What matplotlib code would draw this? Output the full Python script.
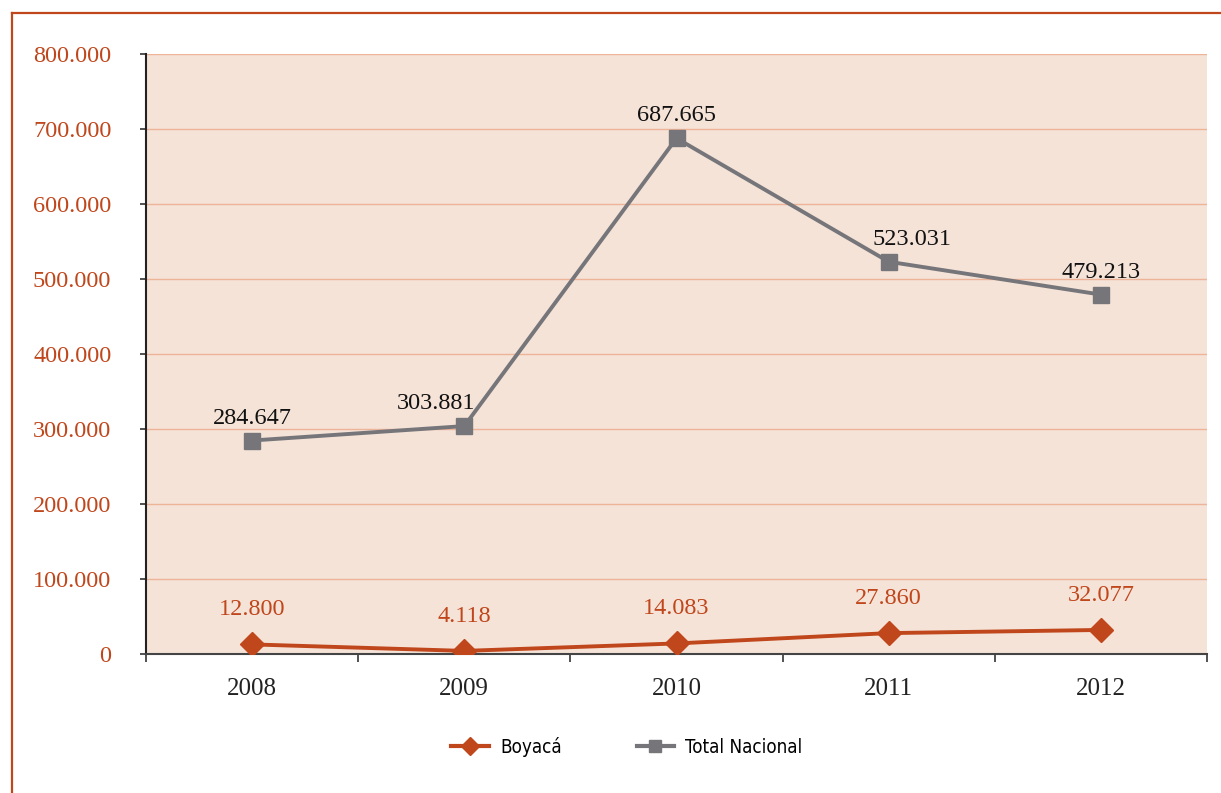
import matplotlib.pyplot as plt
from matplotlib.lines import Line2D

years = ['2008', '2009', '2010', '2011', '2012']
boyaca = [12800, 4118, 14083, 27860, 32077]
nacional = [284647, 303881, 687665, 523031, 479213]
boyaca_labels = ['12.800', '4.118', '14.083', '27.860', '32.077']
nacional_labels = ['284.647', '303.881', '687.665', '523.031', '479.213']
yticks = [0, 100000, 200000, 300000, 400000, 500000, 600000, 700000, 800000]
ytick_labels = ['0', '100.000', '200.000', '300.000', '400.000', '500.000', '600.000', '700.000', '800.000']

orange = '#C0461B'
gray = '#76767A'
fill = '#F5E3D8'
grid = '#EDB497'

fig = plt.figure(figsize=(12.21, 7.93), dpi=100)
ax = fig.add_axes([146 / 1221, 139 / 793, (1207 - 146) / 1221, 600 / 793])
ax.set_facecolor(fill)

x = list(range(len(years)))
ax.plot(x, nacional, color=gray, lw=2.8, marker='s', ms=12, label='Total Nacional', zorder=3)
ax.plot(x, boyaca, color=orange, lw=2.8, marker='D', ms=12, label='Boyacá', zorder=3)

ax.set_xlim(-0.5, 4.5)
ax.set_ylim(0, 800000)
ax.set_yticks(yticks)
ax.set_yticklabels(ytick_labels, fontfamily='Liberation Serif', fontsize=17.5, color=orange)
ax.set_xticks(x)
ax.set_xticklabels(years, fontfamily='Liberation Serif', fontsize=18, color='#222222')
ax.set_xticks([-0.5, 0.5, 1.5, 2.5, 3.5, 4.5], minor=True)
ax.tick_params(axis='x', which='major', length=0, pad=17)
ax.tick_params(axis='x', which='minor', length=6, width=1.2, color='#333333')
ax.tick_params(axis='y', length=4, width=1.2, color='#333333', pad=21)

for y in yticks[1:]:
    ax.axhline(y, color=grid, lw=1, zorder=1)

for s in ['top', 'right']:
    ax.spines[s].set_visible(False)
ax.spines['left'].set_color('#222222')
ax.spines['bottom'].set_color('#444444')
ax.spines['left'].set_linewidth(1.5)
ax.spines['bottom'].set_linewidth(1.5)

nac_offsets = [(0, 12), (-28, 12), (0, 12), (23, 12), (0, 12)]
for i, (v, lab) in enumerate(zip(nacional, nacional_labels)):
    ax.annotate(lab, (i, v), xytext=nac_offsets[i], textcoords='offset pixels',
                ha='center', va='bottom', fontfamily='Liberation Serif', fontsize=17.5, color='#111111')
for i, (v, lab) in enumerate(zip(boyaca, boyaca_labels)):
    ax.annotate(lab, (i, v), xytext=(0, 24), textcoords='offset pixels',
                ha='center', va='bottom', fontfamily='Liberation Serif', fontsize=17.5, color=orange)

handles = [Line2D([], [], color=orange, lw=3, marker='D', ms=9),
           Line2D([], [], color=gray, lw=3, marker='s', ms=9)]
fig.legend(handles, ['Boyacá', 'Total Nacional'], loc='center', bbox_to_anchor=(627 / 1221, 1 - 747 / 793),
           ncol=2, frameon=False,
           prop={'family': 'DejaVu Sans', 'stretch': 'condensed', 'size': 13.5},
           handlelength=2.0, columnspacing=4.0, handletextpad=0.6)

fig.add_artist(Line2D([12 / 1221, 12 / 1221], [0, 1 - 13 / 793], color=orange, lw=1.6, transform=fig.transFigure))
fig.add_artist(Line2D([12 / 1221, 1], [1 - 13 / 793, 1 - 13 / 793], color=orange, lw=1.6, transform=fig.transFigure))

fig.savefig('out.png', dpi=100)
